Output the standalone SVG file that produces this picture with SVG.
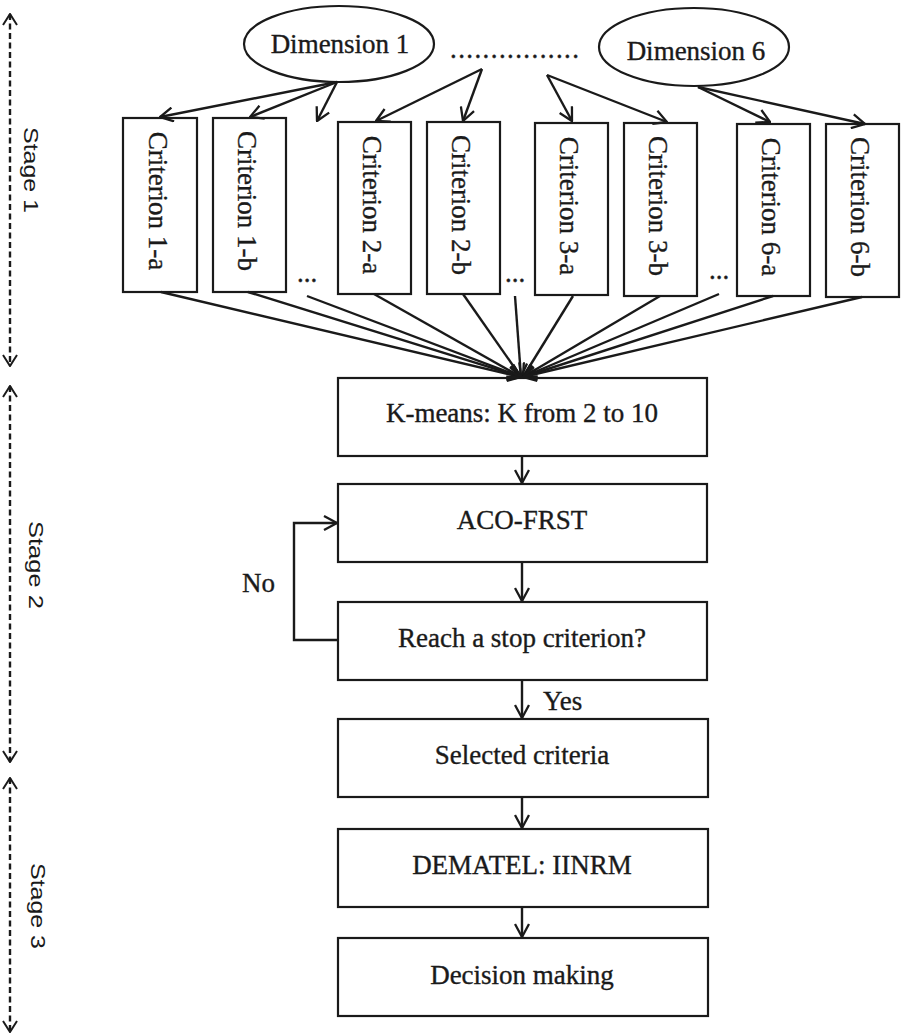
<svg xmlns="http://www.w3.org/2000/svg" width="904" height="1036" viewBox="0 0 904 1036">
<style>
.box{fill:#fff;stroke:#1a1a1a;stroke-width:2.2}
.t{font-family:"Liberation Serif","Times New Roman",serif;font-size:27px;fill:#1a1a1a;stroke:#1a1a1a;stroke-width:0.35}
.c{text-anchor:middle}
.ln{stroke:#1a1a1a;stroke-width:2.4;fill:none;marker-end:url(#ah)}
.stg{stroke:#1a1a1a;stroke-width:2.4;fill:none;stroke-dasharray:6 3.5;marker-start:url(#ah2);marker-end:url(#ah2)}
.s{font-family:"Liberation Sans",Arial,sans-serif;font-size:21px;fill:#1a1a1a;text-anchor:middle}
</style>
<defs>
<marker id="ah" viewBox="0 0 15 16" refX="14" refY="8" markerWidth="15" markerHeight="16" markerUnits="userSpaceOnUse" orient="auto">
<path d="M1,1 L14,8 L1,15" fill="none" stroke="#1a1a1a" stroke-width="2.3"/>
</marker>
<marker id="ah2" viewBox="0 0 13 16" refX="12" refY="8" markerWidth="13" markerHeight="16" markerUnits="userSpaceOnUse" orient="auto-start-reverse">
<path d="M1,1 L12,8 L1,15" fill="none" stroke="#1a1a1a" stroke-width="2"/>
</marker>
</defs>
<rect width="904" height="1036" fill="#fff"/>

<g id="stages">
<line class="stg" x1="10" y1="14" x2="10" y2="366"/>
<line class="stg" x1="10" y1="386" x2="10" y2="762"/>
<line class="stg" x1="10" y1="778" x2="10" y2="1032"/>
<text class="s" transform="translate(24,170) rotate(90)" textLength="86" lengthAdjust="spacingAndGlyphs">Stage 1</text>
<text class="s" transform="translate(29,565) rotate(90)" textLength="88" lengthAdjust="spacingAndGlyphs">Stage 2</text>
<text class="s" transform="translate(31,906) rotate(90)" textLength="86" lengthAdjust="spacingAndGlyphs">Stage 3</text>
</g>

<g id="dim1">
<ellipse class="box" cx="339" cy="44" rx="95" ry="38"/>
<text class="t c" x="340" y="53">Dimension 1</text>
</g>
<g id="dots-top">
<text class="t" x="450" y="58" letter-spacing="1.4">................</text>
</g>
<g id="dim6">
<ellipse class="box" cx="694" cy="47" rx="95" ry="39"/>
<text class="t c" x="696" y="60">Dimension 6</text>
</g>

<g id="c1a"><rect class="box" x="123" y="118" width="74" height="174"/><text class="t c" transform="translate(149,201) rotate(90)">Criterion 1-a</text></g>
<g id="c1b"><rect class="box" x="213" y="118" width="73" height="174"/><text class="t c" transform="translate(238,201) rotate(90)">Criterion 1-b</text></g>
<g id="dots1"><text class="t" x="297" y="282">...</text></g>
<g id="c2a"><rect class="box" x="338" y="122" width="73" height="172"/><text class="t c" transform="translate(363,205) rotate(90)">Criterion 2-a</text></g>
<g id="c2b"><rect class="box" x="427" y="122" width="73" height="172"/><text class="t c" transform="translate(452,205) rotate(90)">Criterion 2-b</text></g>
<g id="dots2"><text class="t" x="505" y="282">...</text></g>
<g id="c3a"><rect class="box" x="535" y="123" width="73" height="172"/><text class="t c" transform="translate(560,206) rotate(90)">Criterion 3-a</text></g>
<g id="c3b"><rect class="box" x="624" y="123" width="73" height="173"/><text class="t c" transform="translate(649,206) rotate(90)">Criterion 3-b</text></g>
<g id="dots3"><text class="t" x="709" y="279">...</text></g>
<g id="c6a"><rect class="box" x="737" y="124" width="73" height="172"/><text class="t c" transform="translate(762,207) rotate(90)">Criterion 6-a</text></g>
<g id="c6b"><rect class="box" x="826" y="124" width="73" height="173"/><text class="t c" transform="translate(851,207) rotate(90)">Criterion 6-b</text></g>

<g id="kmeans"><rect class="box" x="338" y="378" width="369" height="78"/><text class="t c" x="522" y="422">K-means: K from 2 to 10</text></g>
<g id="aco"><rect class="box" x="338" y="484" width="369" height="78"/><text class="t c" x="522" y="529">ACO-FRST</text></g>
<g id="reach"><rect class="box" x="338" y="602" width="369" height="78"/><text class="t c" x="522" y="647">Reach a stop criterion?</text></g>
<g id="selected"><rect class="box" x="338" y="719" width="370" height="78"/><text class="t c" x="522" y="764">Selected criteria</text></g>
<g id="dematel"><rect class="box" x="338" y="829" width="370" height="78"/><text class="t c" x="522" y="874">DEMATEL: IINRM</text></g>
<g id="decision"><rect class="box" x="338" y="938" width="370" height="78"/><text class="t c" x="522" y="984">Decision making</text></g>

<g id="connectors">
<line class="ln" x1="337" y1="82" x2="160" y2="117"/>
<line class="ln" x1="337" y1="82" x2="250" y2="117"/>
<line class="ln" x1="337" y1="82" x2="317" y2="121"/>
<line class="ln" x1="482" y1="69" x2="376" y2="121"/>
<line class="ln" x1="482" y1="69" x2="463" y2="121"/>
<line class="ln" x1="547" y1="75" x2="572" y2="121"/>
<line class="ln" x1="547" y1="75" x2="667" y2="122"/>
<line class="ln" x1="698" y1="87" x2="770" y2="122"/>
<line class="ln" x1="698" y1="87" x2="865" y2="124"/>

<line class="ln" x1="161" y1="292" x2="521" y2="377"/>
<line class="ln" x1="248" y1="292" x2="521" y2="377"/>
<line class="ln" x1="307" y1="296" x2="521" y2="377"/>
<line class="ln" x1="374" y1="294" x2="521" y2="377"/>
<line class="ln" x1="463" y1="294" x2="521" y2="377"/>
<line class="ln" x1="515" y1="296" x2="521" y2="377"/>
<line class="ln" x1="573" y1="296" x2="523" y2="377"/>
<line class="ln" x1="660" y1="296" x2="523" y2="377"/>
<line class="ln" x1="719" y1="294" x2="523" y2="377"/>
<line class="ln" x1="773" y1="296" x2="523" y2="377"/>
<line class="ln" x1="862" y1="297" x2="523" y2="377"/>

<line class="ln" x1="522" y1="456" x2="522" y2="483"/>
<line class="ln" x1="522" y1="562" x2="522" y2="601"/>
<line class="ln" x1="522" y1="680" x2="522" y2="718"/>
<line class="ln" x1="522" y1="797" x2="522" y2="828"/>
<line class="ln" x1="522" y1="907" x2="522" y2="937"/>
<polyline class="ln" points="338,640 294,640 294,523 337,523"/>
<text class="t" x="543" y="710">Yes</text>
<text class="t" x="242" y="592">No</text>
</g>
</svg>
